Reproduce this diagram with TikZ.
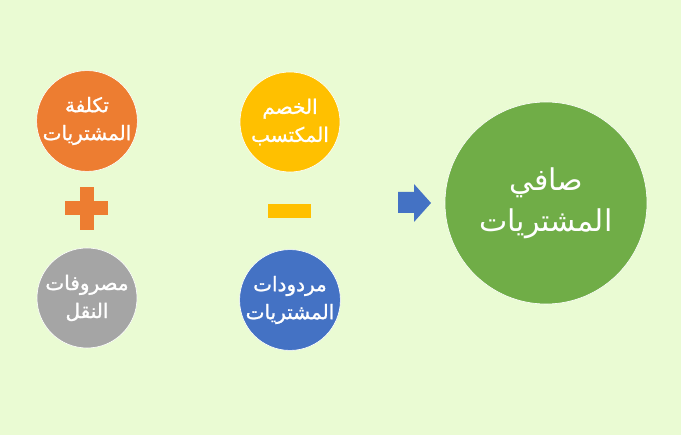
\documentclass[tikz,border=0pt]{standalone}
\usepackage{fontspec}
\TeXXeTstate=1
\newfontfamily\arabicfont[Script=Arabic]{DejaVu Sans}
\newfontfamily\arabicsemi[Script=Arabic,FakeBold=1.2]{DejaVu Sans}
\definecolor{bgc}{HTML}{EAFBD3}
\definecolor{corange}{HTML}{ED7D31}
\definecolor{cyellow}{HTML}{FFC000}
\definecolor{cgray}{HTML}{A5A5A5}
\definecolor{cblue}{HTML}{4472C4}
\definecolor{cgreen}{HTML}{70AD47}
\tikzset{
  smallc/.style={circle, minimum size=100pt, inner sep=0pt, draw=white, line width=0.6pt, text=white,
    align=center, font=\arabicsemi\fontsize{20}{28}\selectfont},
  bigc/.style={circle, minimum size=202pt, inner sep=0pt, draw=white, line width=0.6pt, text=white,
    align=center, font=\arabicfont\fontsize{30}{41}\selectfont},
}
\begin{document}
\begin{tikzpicture}[x=1pt,y=-1pt]
\fill[bgc] (0,0) rectangle (681,435);
\useasboundingbox (0,0) rectangle (681,435);
\node[smallc, fill=corange] (cost) at (87,121) {\beginR تكلفة\endR\\\beginR المشتريات\endR};
\node[smallc, fill=cyellow] (disc) at (290,122) {\beginR الخصم\endR\\\beginR المكتسب\endR};
\node[smallc, fill=cgray] (trans) at (87,298) {\beginR مصروفات\endR\\\beginR النقل\endR};
\node[smallc, fill=cblue] (ret) at (290,300) {\beginR مردودات\endR\\\beginR المشتريات\endR};
\node[bigc, fill=cgreen] (net) at (546,203) {\beginR صافي\endR\\\beginR المشتريات\endR};
% plus
\coordinate (plus) at (86.5,208.5);
\fill[corange] ([xshift=-21.5pt,yshift=7pt]plus) rectangle ([xshift=21.5pt,yshift=-7pt]plus);
\fill[corange] ([xshift=-7pt,yshift=21.5pt]plus) rectangle ([xshift=7pt,yshift=-21.5pt]plus);
% minus
\coordinate (minus) at (289.5,211);
\fill[cyellow] ([xshift=-21.5pt,yshift=7pt]minus) rectangle ([xshift=21.5pt,yshift=-7pt]minus);
% arrow
\fill[cblue] (398,192) -- (414,192) -- (414,184) -- (431,203) -- (414,222) -- (414,213) -- (398,213) -- cycle;
\end{tikzpicture}
\end{document}
